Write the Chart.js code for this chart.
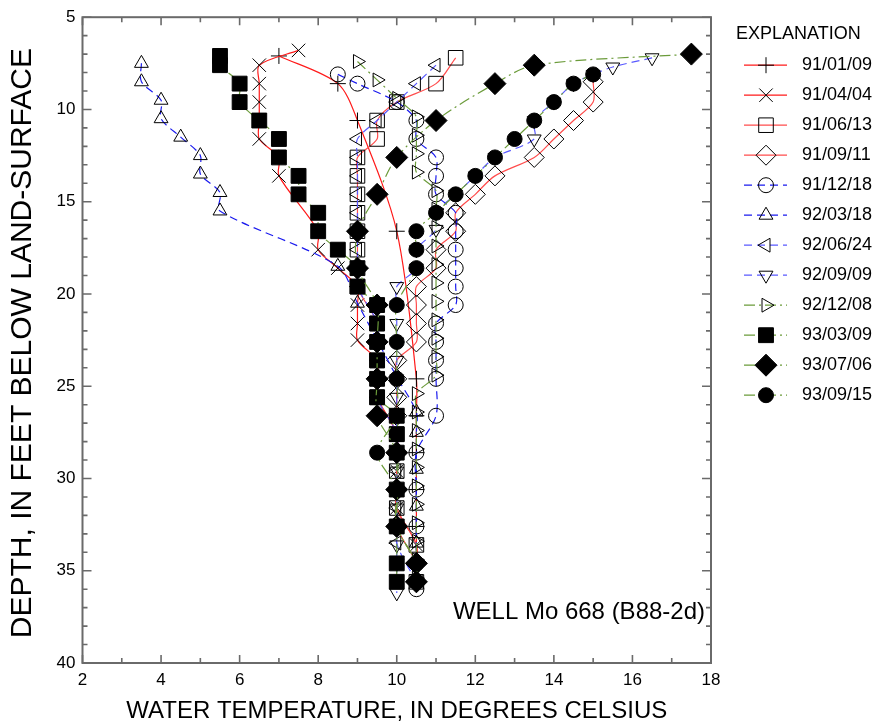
<!DOCTYPE html>
<html>
<head>
<meta charset="utf-8">
<script src="https://cdn.jsdelivr.net/npm/chart.js@4.4.0/dist/chart.umd.min.js"></script>
<style>
  html, body { margin: 0; padding: 0; background: #fff; }
</style>
</head>
<body>
<canvas id="myChart" width="876" height="726"></canvas>
<script>
// Measurement dates (legend labels)
const seriesNames = ['91/01/09', '91/04/04', '91/06/13', '91/09/11', '91/12/18', '92/03/18',
                     '92/06/24', '92/09/09', '92/12/08', '93/03/09', '93/07/06', '93/09/15'];

// Each profile: [water temperature (deg C), depth (ft below land surface)]
const s910109 = [[7.0,7.1],[8.5,8.6],[9.0,10.6],[10.0,16.6],[10.5,24.6],[10.5,26.6],[10.5,28.6],[10.5,30.6],[10.5,32.6],[10.5,34.6]];
const s910404 = [[7.5,6.8],[6.5,7.6],[6.5,8.6],[6.5,9.6],[6.5,10.6],[6.5,11.6],[7.0,12.6],[7.0,13.6],[8.0,16.6],[8.0,17.6],[8.5,18.6],
                 [9.0,19.6],[9.0,20.6],[9.0,21.6],[9.0,22.5],[9.5,23.6],[9.5,24.6],[9.5,25.6],[10.0,27.6],[10.0,29.6],[10.0,31.6],[10.5,33.6],[10.5,35.6]];
const s910613 = [[11.5,7.2],[11.0,8.6],[10.0,9.6],[9.5,10.6],[9.5,11.6],[9.0,12.6],[9.0,13.6],[9.0,14.6],[9.0,15.6],[9.0,16.6],[9.0,17.6],
                 [9.0,19.6],[9.5,21.6],[9.5,23.6],[9.5,25.6],[10.0,27.6],[10.0,29.6],[10.0,31.6],[10.5,33.6],[10.5,35.6]];
const s910911 = [[15.0,8.5],[15.0,9.6],[14.5,10.6],[14.0,11.6],[13.5,12.6],[12.5,13.6],[12.0,14.6],[11.5,15.6],[11.5,16.6],[11.0,17.6],[11.0,18.6],
                 [10.5,19.6],[10.5,20.6],[10.5,21.6],[10.5,22.6],[10.0,23.6],[10.0,24.6],[10.0,25.6],[10.0,26.6],[10.0,28.6],[10.0,30.6],[10.0,32.6],[10.5,34.6],[10.5,35.6]];
const s911218 = [[8.5,8.1],[9.0,8.6],[10.0,9.6],[10.5,10.6],[10.5,11.6],[11.0,12.6],[11.0,13.6],[11.0,14.6],[11.5,15.6],[11.5,16.6],[11.5,17.6],
                 [11.5,18.6],[11.5,19.6],[11.5,20.6],[11.0,21.6],[11.0,22.6],[11.0,23.6],[11.0,24.6],[11.0,26.6],[10.5,28.6],[10.5,30.6],[10.5,32.6],[10.5,34.6],[10.5,36.0]];
const s920318 = [[3.5,7.5],[3.5,8.5],[4.0,9.5],[4.0,10.5],[4.5,11.5],[5.0,12.5],[5.0,13.5],[5.5,14.5],[5.5,15.5],[8.5,18.5],[9.0,20.5],
                 [9.5,22.5],[10.0,24.5],[10.5,26.4],[10.5,27.5],[10.5,29.5],[10.5,31.5],[10.5,33.5],[10.5,35.5]];
const s920624 = [[11.0,7.6],[10.5,8.6],[10.0,9.6],[9.5,10.6],[9.0,11.6],[9.0,12.6],[9.0,13.6],[9.0,14.6],[9.0,15.6],[9.0,16.6],[9.0,17.6],
                 [9.0,18.6],[9.0,19.6],[9.5,21.6],[9.5,23.6],[9.5,25.6],[10.0,27.6],[10.0,29.6],[10.0,31.6],[10.0,33.5],[10.5,35.6]];
const s920909 = [[16.5,7.2],[15.5,7.7],[15.0,8.1],[14.5,8.6],[14.0,9.6],[13.5,10.6],[13.5,11.6],[12.5,12.6],[12.0,13.6],[11.5,14.6],[11.0,15.6],
                 [11.0,16.5],[10.5,17.6],[10.5,18.6],[10.0,19.6],[10.0,20.6],[10.0,21.6],[10.0,22.6],[10.0,23.6],[10.0,24.6],[10.0,25.6],
                 [10.0,27.6],[10.0,29.6],[10.0,31.6],[10.0,33.6],[10.0,34.6],[10.0,36.2]];
const s921208 = [[9.0,7.4],[9.5,8.4],[10.0,9.4],[10.5,10.4],[10.5,11.4],[10.5,12.4],[10.5,13.4],[11.0,14.4],[11.0,15.4],[11.0,16.4],[11.0,17.4],
                 [11.0,18.4],[11.0,19.4],[11.0,20.4],[11.0,21.4],[11.0,22.4],[11.0,23.4],[11.0,24.4],[10.5,25.4],[10.5,26.4],[10.5,27.4],
                 [10.5,28.4],[10.5,29.4],[10.5,30.4],[10.5,31.4],[10.5,32.4],[10.5,33.4],[10.5,34.4],[10.5,35.4]];
const s930309 = [[5.5,7.1],[5.5,7.6],[6.0,8.6],[6.0,9.6],[6.5,10.6],[7.0,11.6],[7.0,12.6],[7.5,13.6],[7.5,14.6],[8.0,15.6],[8.0,16.6],
                 [8.5,17.6],[9.0,18.6],[9.0,19.6],[9.5,20.6],[9.5,21.6],[9.5,22.6],[9.5,23.6],[9.5,24.6],[9.5,25.6],[10.0,26.6],[10.0,27.6],
                 [10.0,28.6],[10.0,30.6],[10.0,32.6],[10.0,34.6],[10.0,35.6]];
const s930706 = [[17.5,7.0],[13.5,7.6],[12.5,8.6],[11.0,10.6],[10.0,12.6],[9.5,14.6],[9.0,16.6],[9.0,18.6],[9.5,20.6],[9.5,22.6],[9.5,24.6],
                 [9.5,26.6],[10.0,28.6],[10.0,30.6],[10.0,32.6],[10.5,34.6],[10.5,35.6]];
const s930915 = [[15.0,8.1],[14.5,8.6],[14.0,9.6],[13.5,10.6],[13.0,11.6],[12.5,12.6],[12.0,13.6],[11.5,14.6],[11.0,15.6],[10.5,16.6],[10.5,17.6],
                 [10.5,18.6],[10.0,20.6],[10.0,22.6],[10.0,24.6],[10.0,26.6],[9.5,28.6],[10.0,30.6],[10.0,32.6],[10.5,34.6],[10.5,35.6]];

// Axis ticks
const xTicks = [2, 4, 6, 8, 10, 12, 14, 16, 18];
const yTicks = [5, 10, 15, 20, 25, 30, 35, 40];

const FONT = '"Liberation Sans", Arial, Helvetica, sans-serif';
Chart.defaults.font.family = FONT;
Chart.defaults.color = '#000';

const RED = '#ff1a1a', RED2 = '#ff4d4d';
const BLUE = '#1a1aee', BLUE2 = '#5a5aff';
const GREEN = '#6b9b3a';
const DASH = [8, 5];
const DASHDOT = [11, 4, 2, 4];

// build one dataset
function profile(i, pts, color, dash, style, rot, r, filled) {
  return {
    label: seriesNames[i],
    data: pts.map(p => ({ x: p[0], y: p[1] })),
    showLine: true,
    borderColor: color,
    borderWidth: 1.2,
    borderDash: dash,
    tension: 0.3,
    pointStyle: style,
    pointRotation: rot,
    pointRadius: r,
    pointHoverRadius: r,
    pointBorderColor: '#000',
    pointBorderWidth: 1,
    pointBackgroundColor: filled ? '#000' : 'rgba(0,0,0,0)',
    order: 20 - i   // later dates drawn on top
  };
}

const datasets = [
  profile(0, s910109, RED, [], 'cross', 0, 8, false),
  profile(1, s910404, RED, [], 'crossRot', 0, 9.5, false),
  profile(2, s910613, RED2, [], 'rect', 0, 10.3, false),
  profile(3, s910911, RED2, [], 'rectRot', 0, 10, false),
  profile(4, s911218, BLUE, DASH, 'circle', 0, 7.5, false),
  profile(5, s920318, BLUE, DASH, 'triangle', 0, 8, false),
  profile(6, s920624, BLUE2, DASH, 'triangle', -90, 8, false),
  profile(7, s920909, BLUE2, DASH, 'triangle', 180, 8, false),
  profile(8, s921208, GREEN, DASHDOT, 'triangle', 90, 8, false),
  profile(9, s930309, GREEN, DASHDOT, 'rect', 0, 10.5, true),
  profile(10, s930706, GREEN, DASHDOT, 'rectRot', 0, 11, true),
  profile(11, s930915, GREEN, DASHDOT, 'circle', 0, 7.5, true)
];

// frame with inward tick marks on all four sides, plus text inside/beside the plot
const framePlugin = {
  id: 'frame',
  afterDraw(chart) {
    const { ctx, chartArea: a, scales: { x, y } } = chart;
    ctx.save();
    ctx.strokeStyle = '#6a6a6a';
    ctx.lineWidth = 1.6;
    ctx.beginPath();
    for (let v = x.min; v <= x.max; v++) {
      const px = x.getPixelForValue(v);
      const len = xTicks.includes(v) ? 8 : 5;
      ctx.moveTo(px, a.bottom); ctx.lineTo(px, a.bottom - len);
      ctx.moveTo(px, a.top); ctx.lineTo(px, a.top + len);
    }
    for (let v = y.min; v <= y.max; v++) {
      const py = y.getPixelForValue(v);
      const len = yTicks.includes(v) ? 9 : 5;
      ctx.moveTo(a.left, py); ctx.lineTo(a.left + len, py);
      ctx.moveTo(a.right, py); ctx.lineTo(a.right - len, py);
    }
    ctx.stroke();
    ctx.lineWidth = 2;
    ctx.strokeRect(a.left, a.top, a.right - a.left, a.bottom - a.top);

    // well label
    ctx.fillStyle = '#000';
    ctx.font = '24px ' + FONT;
    ctx.textAlign = 'right';
    ctx.textBaseline = 'alphabetic';
    ctx.fillText('WELL Mo 668 (B88-2d)', a.right - 6, a.bottom - 44);

    // y axis title
    ctx.font = '30px ' + FONT;
    ctx.textAlign = 'center';
    ctx.textBaseline = 'middle';
    ctx.translate(23, (a.top + a.bottom) / 2 + 3);
    ctx.rotate(-Math.PI / 2);
    ctx.fillText('DEPTH, IN FEET BELOW LAND-SURFACE', 0, 0);
    ctx.restore();
  }
};

// "EXPLANATION" legend at the right
const explanationPlugin = {
  id: 'explanation',
  afterDraw(chart) {
    const { ctx, chartArea: a } = chart;
    const lx = a.right + 33;
    ctx.save();
    ctx.fillStyle = '#000';
    ctx.font = '18px ' + FONT;
    ctx.textAlign = 'left';
    ctx.textBaseline = 'middle';
    ctx.fillText('EXPLANATION', a.right + 25, a.top + 17);
    chart.data.datasets.forEach((ds, i) => {
      const yy = a.top + 48 + i * 30;
      ctx.strokeStyle = ds.borderColor;
      ctx.lineWidth = ds.borderWidth;
      ctx.setLineDash(ds.borderDash);
      ctx.beginPath();
      ctx.moveTo(lx, yy);
      ctx.lineTo(lx + 43, yy);
      ctx.stroke();
      ctx.setLineDash([]);
      ctx.fillStyle = ds.pointBackgroundColor;
      ctx.strokeStyle = '#000';
      ctx.lineWidth = 1;
      Chart.helpers.drawPoint(ctx, {
        pointStyle: ds.pointStyle, rotation: ds.pointRotation,
        radius: ds.pointRadius, borderWidth: 1
      }, lx + 22, yy);
      ctx.fillStyle = '#000';
      ctx.fillText(ds.label, lx + 58, yy);
    });
    ctx.restore();
  }
};

const ctx = document.getElementById('myChart').getContext('2d');
const myChart = new Chart(ctx, {
  type: 'scatter',
  data: { datasets: datasets },
  options: {
    responsive: false,
    animation: false,
    layout: { padding: { top: 15, right: 165, left: 0, bottom: 0 } },
    plugins: {
      legend: { display: false },
      tooltip: { enabled: false }
    },
    scales: {
      x: {
        type: 'linear', min: 2, max: 18,
        afterBuildTicks: s => { s.ticks = xTicks.map(v => ({ value: v })); },
        ticks: { font: { size: 17 }, padding: 7, maxRotation: 0 },
        grid: { display: false, drawTicks: false },
        border: { display: false },
        title: { display: true, text: 'WATER TEMPERATURE, IN DEGREES CELSIUS', font: { size: 24 }, padding: 0 },
        afterFit: s => { s.height = 63; }
      },
      y: {
        type: 'linear', reverse: true, min: 5, max: 40,
        afterBuildTicks: s => { s.ticks = yTicks.map(v => ({ value: v })); },
        ticks: { font: { size: 17 }, padding: 7 },
        grid: { display: false, drawTicks: false },
        border: { display: false },
        afterFit: s => { s.width = 82.5; }
      }
    }
  },
  plugins: [framePlugin, explanationPlugin]
});
</script>
</body>
</html>
